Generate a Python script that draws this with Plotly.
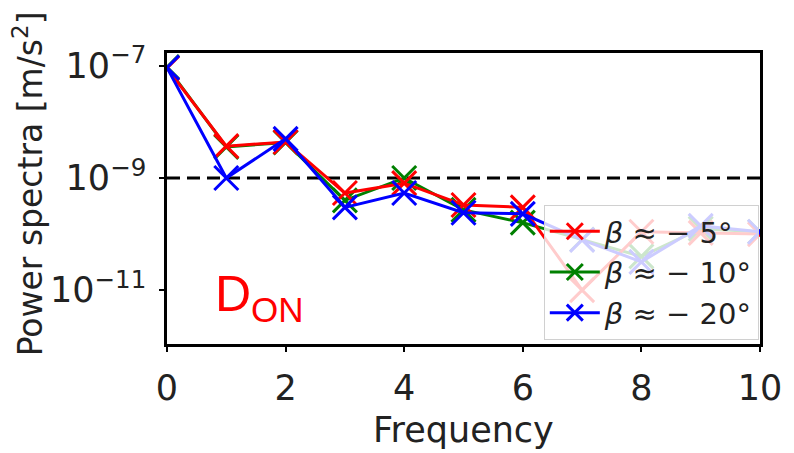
import plotly.graph_objects as go

freq = [0, 1, 2, 3, 4, 5, 6, 7, 8, 9, 10]
red_vals = [9.1e-8, 3.7e-9, 4.4e-9, 5.4e-10, 8.1e-10, 3.3e-10, 3.0e-10, 1.0e-11, 1.1e-10, 1.05e-10, 1.0e-10]
green_vals = [9.5e-8, 3.6e-9, 4.3e-9, 4.0e-10, 1.0e-9, 2.7e-10, 1.6e-10, 8.0e-11, 4.0e-11, 1.25e-10, 1.1e-10]
blue_vals = [9.3e-8, 1.0e-9, 5.0e-9, 3.0e-10, 5.4e-10, 2.4e-10, 2.3e-10, 7.9e-11, 3.2e-11, 1.4e-10, 1.1e-10]
threshold = 1e-9
series_names = ["<i>β</i> ≈ − 5°", "<i>β</i> ≈ − 10°", "<i>β</i> ≈ − 20°"]
x_ticks = [0, 2, 4, 6, 8, 10]
y_ticks = [1e-11, 1e-9, 1e-7]
y_ticktext = ["10<sup>−11</sup>", "10<sup>−9</sup>", "10<sup>−7</sup>"]

FONT = "DejaVu Sans"
TXT = "#222222"
fig = go.Figure()

# dashed threshold line
fig.add_trace(go.Scatter(x=[freq[0], freq[-1]], y=[threshold, threshold], mode="lines",
                         line=dict(color="black", width=3, dash="13px,7px"),
                         showlegend=False, hoverinfo="skip"))

def add_series(y, color, name, rank):
    fig.add_trace(go.Scatter(
        x=freq, y=y, mode="lines+markers", name=name, legendrank=rank,
        line=dict(color=color, width=3),
        marker=dict(symbol="x-thin", size=24, color=color,
                    line=dict(color=color, width=3)),
    ))

add_series(green_vals, "#008000", series_names[1], 2)
add_series(red_vals, "#ff0000", series_names[0], 1)
add_series(blue_vals, "#0000ff", series_names[2], 3)

fig.update_layout(
    width=794, height=453,
    margin=dict(l=167, r=26, t=53, b=109),
    paper_bgcolor="white", plot_bgcolor="white",
    font=dict(family=FONT, size=35, color=TXT),
    showlegend=True,
    legend=dict(x=0.998, xanchor="right", y=0.014, yanchor="bottom",
                bgcolor="rgba(255,255,255,0.8)", bordercolor="#d0d0d0", borderwidth=1,
                font=dict(family=FONT, size=29, color=TXT),
                itemwidth=50, tracegroupgap=0),
    xaxis=dict(range=[0, 10], tickvals=x_ticks, showgrid=False, zeroline=False,
               showline=True, linecolor="black", linewidth=2.5, mirror=True,
               ticks="outside", ticklen=5, tickwidth=1.5, tickcolor="black",
               ticklabelstandoff=6),
    yaxis=dict(type="log", range=[-11.96, -6.77], tickvals=y_ticks, ticktext=y_ticktext,
               showgrid=False, zeroline=False,
               showline=True, linecolor="black", linewidth=2.5, mirror=True,
               ticks="outside", ticklen=5, tickwidth=1.5, tickcolor="black",
               ticklabelstandoff=6),
    annotations=[
        dict(text="Frequency", xref="paper", yref="paper", x=0.5, y=-0.295,
             xanchor="center", yanchor="middle", showarrow=False,
             font=dict(family=FONT, size=35, color=TXT)),
        dict(text="Power spectra [m/s<sup>2</sup>]", xref="paper", yref="paper",
             x=-0.232, y=0.55, xanchor="center", yanchor="middle", textangle=-90,
             showarrow=False, font=dict(family=FONT, size=33, color=TXT)),
        dict(text="D<sub>ON</sub>", xref="paper", yref="paper", x=0.078, y=0.16,
             xanchor="left", yanchor="middle", showarrow=False,
             font=dict(family="Liberation Sans", size=50, color="#ff0000")),
    ],
)

fig.write_html("out.html")
